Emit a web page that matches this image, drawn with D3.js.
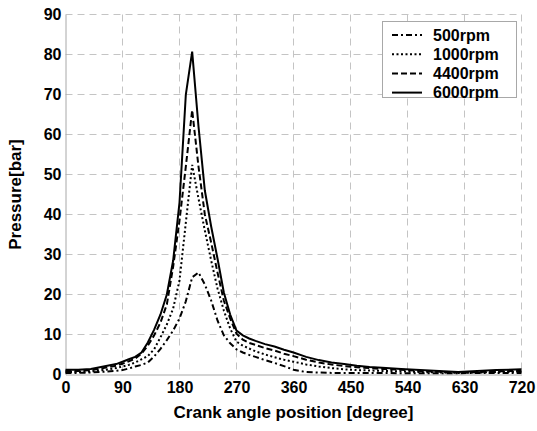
<!DOCTYPE html>
<html>
<head>
<meta charset="utf-8">
<script src="https://cdn.jsdelivr.net/npm/d3@7"></script>
<style>
  html, body { margin: 0; padding: 0; background: #fff; }
  svg { display: block; }
  text { font-family: "Liberation Sans", Arial, sans-serif; font-weight: bold; fill: #000; }
</style>
</head>
<body>
<svg id="chart" width="537" height="431"></svg>
<script>
// ---- data ----
const angles = [0, 20, 40, 60, 80, 90, 100, 110, 120, 130, 140, 150, 160, 170, 180, 190, 200, 210, 220, 230, 240, 250, 260, 270, 280, 290, 300, 315, 330, 345, 360, 380, 400, 420, 440, 460, 480, 500, 530, 560, 590, 620, 650, 680, 720];

const rpm500 = [0.4, 0.4, 0.5, 0.7, 0.9, 1.1, 1.5, 2.0, 2.4, 3.0, 4.5, 6.4, 8.6, 11.0, 14.0, 18.3, 24.3, 25.5, 22.5, 18.5, 13.5, 9.8, 7.8, 6.3, 5.5, 4.9, 4.4, 3.6, 2.9, 2.1, 1.2, 0.6, 0.5, 0.4, 0.4, 0.4, 0.4, 0.4, 0.3, 0.3, 0.3, 0.3, 0.4, 0.4, 0.4];
const rpm1000 = [0.6, 0.6, 0.8, 1.1, 1.6, 2.0, 2.4, 3.0, 3.8, 4.6, 6.3, 9.3, 12.5, 16.5, 23.5, 38.0, 52.4, 44.0, 36.0, 28.5, 21.5, 16.0, 11.5, 8.2, 7.2, 6.5, 5.8, 5.0, 4.3, 3.7, 3.2, 2.5, 2.0, 1.6, 1.3, 1.1, 1.0, 0.9, 0.8, 0.6, 0.5, 0.4, 0.5, 0.6, 0.7];
const rpm4400 = [0.9, 0.9, 1.1, 1.6, 2.2, 2.7, 3.3, 4.0, 5.2, 7.2, 9.8, 13.0, 17.5, 27.0, 38.5, 52.0, 66.1, 52.0, 40.0, 33.0, 25.5, 18.5, 14.0, 10.2, 8.7, 7.9, 7.4, 6.6, 6.0, 5.2, 4.6, 3.7, 3.0, 2.5, 2.1, 1.8, 1.6, 1.4, 1.2, 0.9, 0.7, 0.5, 0.6, 0.8, 0.9];
const rpm6000 = [1.2, 1.2, 1.4, 2.0, 2.6, 3.2, 3.8, 4.4, 5.5, 8.0, 11.2, 15.0, 20.0, 28.5, 43.0, 70.0, 80.7, 62.0, 46.0, 37.0, 29.0, 20.5, 15.0, 11.0, 9.8, 9.0, 8.4, 7.6, 7.0, 6.2, 5.5, 4.4, 3.6, 3.0, 2.6, 2.2, 1.9, 1.7, 1.4, 1.1, 0.9, 0.6, 0.9, 1.1, 1.3];

const seriesNames = ["500rpm", "1000rpm", "4400rpm", "6000rpm"];
const seriesValues = [rpm500, rpm1000, rpm4400, rpm6000];
const seriesDash = ["6,3,2,3", "2,2.5", "6,3", null];

const xTicks = [0, 90, 180, 270, 360, 450, 540, 630, 720];
const yTicks = [0, 10, 20, 30, 40, 50, 60, 70, 80, 90];

const xTitle = "Crank angle position [degree]";
const yTitle = "Pressure[bar]";

// ---- layout ----
const svg = d3.select("#chart");
const L = 65.5, R = 521.5, T = 14.5, B = 374.5;
const x = d3.scaleLinear().domain([0, 720]).range([L, R]);
const y = d3.scaleLinear().domain([0, 90]).range([B, T]);

const gridColor = "#c4c4c4";

// grid
const grid = svg.append("g");
grid.selectAll("line.gx").data(xTicks.filter(d => d > 0)).enter().append("line")
  .attr("x1", d => x(d)).attr("x2", d => x(d)).attr("y1", T).attr("y2", B)
  .attr("stroke", gridColor).attr("stroke-width", 1).attr("stroke-dasharray", "7,5");
grid.selectAll("line.gy").data(yTicks.filter(d => d > 0)).enter().append("line")
  .attr("x1", L).attr("x2", R).attr("y1", d => y(d)).attr("y2", d => y(d))
  .attr("stroke", gridColor).attr("stroke-width", 1).attr("stroke-dasharray", "7,5");

// axes
const xAxis = svg.append("g").attr("transform", `translate(0,${B})`)
  .call(d3.axisBottom(x).tickValues(xTicks).tickSize(0).tickPadding(7));
const yAxis = svg.append("g").attr("transform", `translate(${L},0)`)
  .call(d3.axisLeft(y).tickValues(yTicks).tickSize(0).tickPadding(4));
[xAxis, yAxis].forEach(a => {
  a.select(".domain").attr("stroke", "#a8a8a8").attr("stroke-width", 1);
  a.selectAll("text").attr("font-family", "Liberation Sans, Arial, sans-serif")
    .attr("font-weight", "bold").attr("font-size", 16).attr("fill", "#000");
});

// titles
svg.append("text").attr("x", (L + R) / 2).attr("y", 418).attr("text-anchor", "middle")
  .attr("font-size", 17).text(xTitle);
svg.append("text").attr("transform", `translate(21,${(T + B) / 2}) rotate(-90)`)
  .attr("text-anchor", "middle").attr("font-size", 17).text(yTitle);

// lines
const line = d3.line().x((d, i) => x(angles[i])).y(d => y(d));
seriesValues.forEach((vals, k) => {
  svg.append("path").datum(vals).attr("d", line)
    .attr("fill", "none").attr("stroke", "#000").attr("stroke-width", 2)
    .attr("stroke-linejoin", "miter")
    .attr("stroke-dasharray", seriesDash[k]);
});

// legend
const lg = svg.append("g");
lg.append("rect").attr("x", 382.5).attr("y", 21.5).attr("width", 134).attr("height", 76)
  .attr("fill", "#fff").attr("stroke", "#a8a8a8").attr("stroke-width", 1);
seriesNames.forEach((name, k) => {
  const cy = 35 + k * 19.2;
  lg.append("line").attr("x1", 392).attr("x2", 422).attr("y1", cy).attr("y2", cy)
    .attr("stroke", "#000").attr("stroke-width", 2).attr("stroke-dasharray", seriesDash[k]);
  lg.append("text").attr("x", 433).attr("y", cy).attr("dy", "0.36em")
    .attr("font-size", 16).text(name);
});
</script>
</body>
</html>
